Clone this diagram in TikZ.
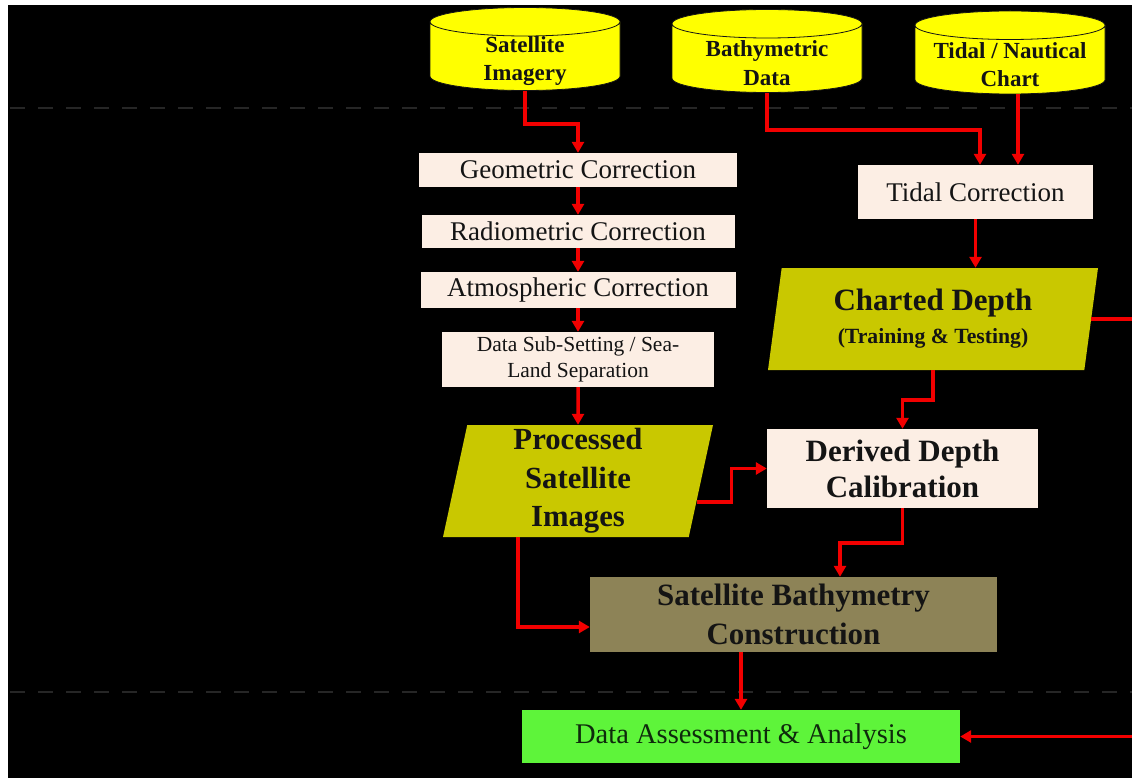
\documentclass[tikz,border=0pt]{standalone}
\usepackage{fontspec}
\setmainfont{Liberation Serif}
\usetikzlibrary{arrows.meta,positioning,shapes.geometric}
\definecolor{ink}{HTML}{141414}
\definecolor{drumyel}{HTML}{FFFF00}
\definecolor{peach}{HTML}{FCEEE4}
\definecolor{slabfill}{HTML}{C9C800}
\definecolor{khaki}{HTML}{8D8357}
\definecolor{lime}{HTML}{5EF43A}
\definecolor{limeink}{HTML}{0E2A0C}
\definecolor{arred}{HTML}{F20000}
\definecolor{sepgray}{HTML}{262626}
\tikzset{
  drum/.style={cylinder,shape border rotate=90,aspect=.15,draw=ink,line width=.8pt,fill=drumyel,minimum width=190pt,minimum height=83pt,inner xsep=95pt,inner ysep=0pt,anchor=shape center},
  drumtxt/.style={inner sep=0pt,align=center,text=ink,font=\bfseries\fontsize{23}{28.5}\selectfont},
  prep/.style={fill=peach,inner sep=0pt,align=center,text=ink,font=\fontsize{27}{30}\selectfont},
  slab/.style={trapezium,trapezium left angle=77,trapezium right angle=103,trapezium stretches body,fill=slabfill,inner sep=0pt,align=center,text=ink,font=\bfseries\fontsize{30.7}{38.5}\selectfont},
  ar/.style={-{Triangle[length=11pt,width=12pt]},draw=arred,line width=3.5pt},
  sep/.style={draw=sepgray,line width=2pt,dash pattern=on 15pt off 13pt},
}
\begin{document}
\begin{tikzpicture}[x=1pt,y=1pt]
  \useasboundingbox (0,0) rectangle (1132,-778);
  \fill[white] (0,0) rectangle (1132,-778);
  \fill[black] (8,-5) rectangle (1132,-778);
  \draw[sep] (10,-108) -- (1132,-108);
  \draw[sep] (10,-692) -- (1132,-692);
  % sources
  \node[drum] (sat) at (525,-49) {};
  \node[drum] (bathy) at (767,-51) {};
  \node[drum] (tchart) at (1010,-52.5) {};
  \node[drumtxt] (sat-t) at ([yshift=-12pt]sat.shape center) {Satellite\\Imagery};
  \node[drumtxt] (bathy-t) at ([yshift=-12pt]bathy.shape center) {Bathymetric\\Data};
  \node[drumtxt] (tchart-t) at ([yshift=-12pt]tchart.shape center) {Tidal / Nautical\\Chart};
  % image pre-processing
  \node[prep,minimum width=318pt,minimum height=34pt] (geo) at (578,-170) {Geometric Correction};
  \node[prep,minimum width=313pt,minimum height=33pt] (radio) at (578,-231.5) {Radiometric Correction};
  \node[prep,minimum width=315pt,minimum height=36pt] (atmo) at (578,-290) {Atmospheric Correction};
  \node[prep,minimum width=272pt,minimum height=55pt,font=\fontsize{21.5}{26}\selectfont] (datasub) at (578,-359.5) {Data Sub-Setting / Sea-\\Land Separation};
  \node[slab,minimum width=270pt,minimum height=112pt] (proc) at (578,-481) {Processed\\Satellite\\Images};
  % depth side
  \node[prep,minimum width=235pt,minimum height=54pt] (tidalcorr) at (975.5,-192) {Tidal Correction};
  \node[slab,minimum width=330pt,minimum height=102pt,font=\bfseries\fontsize{31}{33}\selectfont] (chart) at (933,-319) {Charted Depth\\{\fontsize{21.7}{26}\selectfont(Training \& Testing)}};
  \node[prep,minimum width=271pt,minimum height=79pt,font=\bfseries\fontsize{31}{36}\selectfont] (derived) at (902.5,-468.5) {Derived Depth\\Calibration};
  \node[prep,fill=khaki,minimum width=407pt,minimum height=75pt,font=\bfseries\fontsize{31}{39}\selectfont] (sbc) at (793.5,-614.5) {Satellite Bathymetry\\Construction};
  \node[prep,fill=lime,text=limeink,minimum width=438pt,minimum height=53pt,font=\fontsize{28.5}{32}\selectfont] (dassess) at (741,-736.5) {Data Assessment \& Analysis};
  \coordinate (rt) at (1145,-319);
  % connectors
  \draw[ar] (sat.south) -- ++(0,-33) -| (geo.north);
  \foreach \a/\b in {geo/radio,radio/atmo,atmo/datasub,datasub/proc} { \draw[ar] (\a.south) -- (\b.north); }
  \draw[ar] (bathy.south) -- ++(0,-37) -| ([xshift=4.5pt]tidalcorr.north);
  \draw[ar] ([xshift=8pt]tchart.south) -- ([xshift=8pt]tchart.south |- tidalcorr.north);
  \draw[ar] (tidalcorr.south) -- (tidalcorr.south |- chart.north);
  \draw[ar] (chart.south) -- ++(0,-30) -| (derived.north);
  \draw[ar] (chart.east) -- (chart.east -| rt) |- (dassess.east);
  \draw[ar] (proc.-10) -- ++(35,0) |- (derived.west);
  \draw[ar] (derived.south) -- ++(0,-35) -| ([xshift=46.5pt]sbc.north);
  \draw[ar] ([xshift=-60pt]proc.south) |- ([yshift=-12.5pt]sbc.west);
  \draw[ar] (dassess.north |- sbc.south) -- (dassess.north);
\end{tikzpicture}
\end{document}
